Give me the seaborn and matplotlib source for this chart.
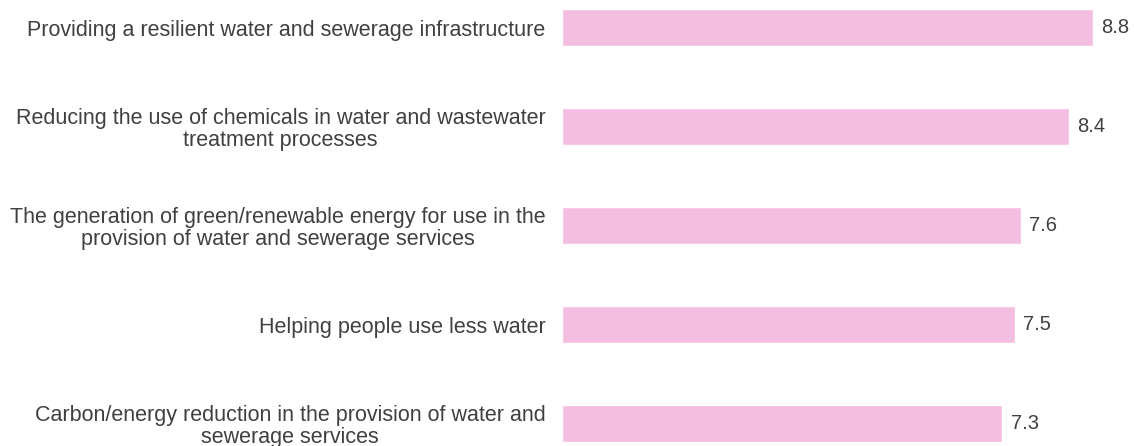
import matplotlib
matplotlib.use("Agg")
import matplotlib.pyplot as plt
import seaborn as sns
import pandas as pd

# chart data
categories = [
    "Providing a resilient water and sewerage infrastructure",
    "Reducing the use of chemicals in water and wastewater\ntreatment processes",
    "The generation of green/renewable energy for use in the\nprovision of water and sewerage services",
    "Helping people use less water",
    "Carbon/energy reduction in the provision of water and\nsewerage services",
]
scores = [8.8, 8.4, 7.6, 7.5, 7.3]

sns.set_style("white")
plt.rcParams["font.family"] = ["Liberation Sans", "DejaVu Sans"]

df = pd.DataFrame({"label": categories, "score": scores})

fig = plt.figure(figsize=(11.34, 4.46), dpi=100)
ax = fig.add_axes([562 / 1134, 0, 1 - 562 / 1134, 1])

sns.barplot(data=df, x="score", y="label", color="#F4BEE0", width=0.375,
            saturation=1, ax=ax)

for c in ax.containers:
    ax.bar_label(c, fmt="%.1f", padding=6, fontsize=14.5, color="#404040")

ax.set_xlim(0, 9.48)
ax.set_ylim(4.227, -0.278)
ax.set_xlabel("")
ax.set_ylabel("")
ax.set_xticks([])
ax.tick_params(axis="y", length=0, pad=12, labelsize=15.5, labelcolor="#404040")
for t in ax.get_yticklabels():
    t.set_multialignment("center")
    t.set_linespacing(1.05)
sns.despine(ax=ax, left=True, bottom=True)

fig.savefig("out.png", dpi=100)
